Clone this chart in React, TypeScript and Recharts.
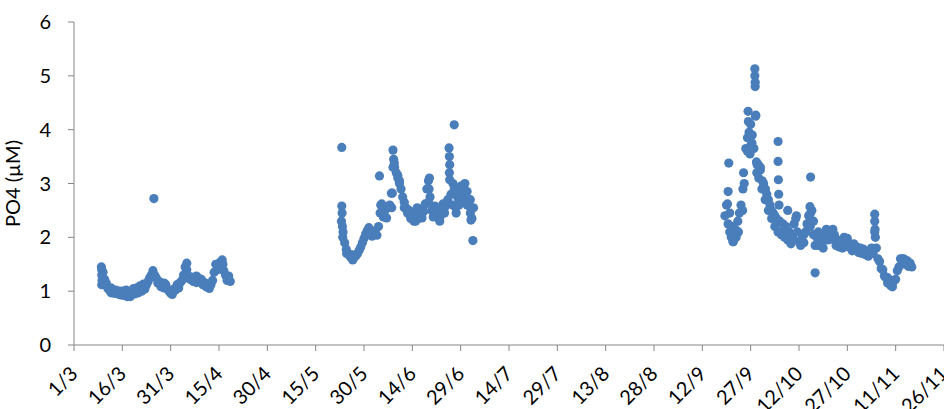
import React from 'react';
import { ScatterChart, Scatter, XAxis, YAxis } from 'recharts';

// Day 0 is 1 March; readings are every half day within each deployment
const SAMPLE_STEP = 0.5;

const tickDays = [0, 15, 30, 45, 60, 75, 90, 105, 120, 135, 150, 165, 180, 195, 210, 225, 240, 255, 270];
const tickLabels = ['1/3', '16/3', '31/3', '15/4', '30/4', '15/5', '30/5', '14/6', '29/6', '14/7', '29/7', '13/8', '28/8', '12/9', '27/9', '12/10', '27/10', '11/11', '26/11'];
const yTicks = [0, 1, 2, 3, 4, 5, 6];

// Spring deployment (from 9/3)
const springStart = 8.5;
const springValues = [
  1.45, 1.35, 1.22, 1.15, 1.05, 1.02, 0.97, 1.03, 0.96, 1.02,
  0.95, 1.0, 0.93, 1.0, 0.92, 0.97, 0.9, 0.95, 0.9, 1.0,
  1.05, 0.95, 1.06, 0.97, 1.1, 1.0, 1.13, 1.04, 1.12, 1.18,
  1.25, 1.3, 1.38, 1.3, 1.25, 1.15, 1.18, 1.08, 1.14, 1.06,
  1.12, 1.04, 1.0, 0.96, 0.94, 1.04, 1.02, 1.12, 1.06, 1.16,
  1.2, 1.3, 1.45, 1.52, 1.28, 1.22, 1.26, 1.18, 1.24, 1.16,
  1.25, 1.18, 1.22, 1.12, 1.16, 1.08, 1.13, 1.05, 1.12, 1.2,
  1.35, 1.5, 1.4, 1.52, 1.42, 1.58, 1.38, 1.3, 1.2, 1.28,
  1.18,
];

// Summer deployment (from 23/5)
const summerStart = 83;
const summerValues = [
  2.3, 2.1, 1.9, 1.78, 1.7, 1.66, 1.62, 1.58, 1.63, 1.66,
  1.7, 1.76, 1.82, 1.9, 1.98, 2.06, 2.12, 2.18, 2.08, 2.02,
  2.08, 2.12, 2.04, 2.2, 2.45, 2.62, 2.38, 2.5, 2.36, 2.55,
  2.6, 2.82, 3.3, 3.3, 3.2, 3.1, 3.0, 2.9, 2.75, 2.65,
  2.55, 2.45, 2.5, 2.35, 2.4, 2.3, 2.45, 2.55, 2.35, 2.52,
  2.36, 2.48, 2.62, 2.9, 3.05, 2.75, 2.5, 2.38, 2.58, 2.4,
  2.52, 2.35, 2.5, 2.62, 2.45, 2.6, 2.7, 3.2, 2.8, 2.6,
  2.9, 2.55, 2.75, 2.6, 2.85, 2.7, 2.92, 2.75, 2.85, 2.6,
  2.45, 2.35, 2.55,
];

// Autumn deployment (from 20/9)
const autumnStart = 202;
const autumnValues = [
  2.4, 2.6, 2.25, 2.1, 2.0, 1.92, 2.05, 2.0, 2.3, 2.45,
  2.6, 2.5, 3.0, 3.65, 3.85, 3.95, 3.7, 3.9, 3.65, 4.25,
  3.35, 3.1, 3.25, 2.9, 3.0, 2.7, 2.8, 2.5, 2.6, 2.35,
  2.45, 2.2, 2.35, 2.1, 2.3, 2.05, 2.25, 2.0, 2.2, 1.95,
  2.1, 1.88, 2.0, 2.25, 2.35, 2.1, 1.92, 1.85, 2.05, 1.9,
  2.1, 2.25, 2.4, 2.2, 2.5, 2.05, 1.85, 2.0, 1.85, 2.05,
  1.9, 1.8, 1.95, 2.1, 1.95, 2.12, 2.0, 2.15, 1.95, 1.85,
  1.95, 1.82, 1.9, 1.8, 2.0, 1.92, 1.98, 1.82, 1.86, 1.75,
  1.88, 1.78, 1.82, 1.72, 1.8, 1.7, 1.78, 1.68, 1.74, 1.65,
  1.72, 1.8, 1.7, 2.1, 1.8, 1.6, 1.55, 1.42, 1.4, 1.28,
  1.25, 1.15, 1.18, 1.1, 1.15, 1.2, 1.22, 1.38, 1.45, 1.6,
  1.52, 1.6, 1.5, 1.57, 1.46, 1.52, 1.45,
];

// Extra readings between the half-day samples: spikes and outliers [day, PO4]
const spotReadings: [number, number][] = [
  [8.6, 1.4], [8.6, 1.3], [8.7, 1.2], [8.6, 1.12], [9.0, 1.15],
  [11.5, 1.06], [16.2, 1.02], [19.2, 1.0], [21.8, 1.08],
  [24.8, 2.72], [28.0, 1.15], [35.0, 1.4], [35.1, 1.3], [38.0, 1.28],
  [42.0, 1.12], [45.8, 1.55], [46.2, 1.5], [47.8, 1.22],
  [83.1, 3.67], [83.1, 2.58], [83.2, 2.45], [83.3, 2.2], [83.4, 2.0],
  [84.6, 1.7], [86.0, 1.68], [94.8, 3.14], [95.2, 2.6], [98.6, 2.55],
  [98.8, 2.82], [99.0, 3.62], [99.2, 3.45], [99.4, 3.38], [100.5, 3.15],
  [101.0, 3.05], [102.5, 2.55], [104.2, 2.42], [106.0, 2.3], [108.0, 2.45],
  [110.0, 2.65], [110.2, 2.9], [110.3, 3.1], [112.0, 2.4], [113.5, 2.3],
  [115.0, 2.55], [116.4, 3.66], [116.5, 3.5], [116.6, 3.35], [116.6, 3.07],
  [117.6, 3.0], [118.0, 4.09], [118.6, 2.45], [119.5, 2.7], [120.0, 2.95],
  [121.3, 3.0], [122.0, 2.6], [123.0, 2.7], [123.1, 2.55], [123.2, 2.32],
  [123.8, 1.94],
  [202.8, 2.62], [203.0, 2.85], [203.2, 3.38], [203.5, 2.45], [204.3, 2.2],
  [204.6, 1.92], [205.2, 2.15], [206.2, 2.1], [207.6, 2.9], [207.8, 3.2],
  [209.0, 3.6], [209.2, 4.34], [209.3, 4.15], [209.8, 3.55], [210.0, 4.1],
  [210.4, 3.75], [211.3, 5.13], [211.3, 5.0], [211.4, 4.88], [211.4, 4.8],
  [211.6, 4.27], [211.8, 3.4], [211.9, 3.2], [212.4, 3.35], [213.0, 3.3],
  [213.6, 3.05], [214.6, 2.9], [215.5, 2.7], [216.5, 2.5], [217.5, 2.4],
  [218.5, 3.78], [218.5, 3.41], [218.6, 3.07], [218.7, 2.8], [218.8, 2.6],
  [220.0, 2.1], [221.5, 2.5], [222.5, 2.05], [224.2, 2.4], [226.5, 2.05],
  [228.4, 2.57], [228.6, 3.12], [228.6, 2.45], [229.0, 2.3], [229.5, 2.3],
  [230.0, 1.34], [231.0, 2.1], [233.5, 2.15], [236.0, 2.05], [240.0, 1.85],
  [244.0, 1.72], [248.5, 2.43], [248.5, 2.3], [248.6, 2.15], [248.7, 2.0],
  [252.5, 1.25], [254.0, 1.08], [257.0, 1.6],
];

const toPoints = (start: number, values: number[]) =>
  values.map((po4, i) => ({ day: start + i * SAMPLE_STEP, po4 }));

const data = [
  ...toPoints(springStart, springValues),
  ...toPoints(summerStart, summerValues),
  ...toPoints(autumnStart, autumnValues),
  ...spotReadings.map(([day, po4]) => ({ day, po4 })),
];

const FONT = 'Lato, "Liberation Sans", sans-serif';
const AXIS_GREY = '#868686';
const DOT_BLUE = '#4A7EBB';

const DateTick = ({ x, y, payload }: { x?: number; y?: number; payload?: { value: number } }) => {
  const idx = tickDays.indexOf(payload?.value ?? -1);
  return (
    <g transform={`translate(${(x ?? 0) + 5},${(y ?? 0) + 22})`}>
      <text textAnchor="end" transform="rotate(-45)" fontSize={20} fill="#000" fontFamily={FONT}>
        {tickLabels[idx] ?? ''}
      </text>
    </g>
  );
};

const Dot = (props: { cx?: number; cy?: number }) => (
  <circle cx={props.cx} cy={props.cy} r={4.6} fill={DOT_BLUE} />
);

export default function App() {
  return (
    <div style={{ position: 'absolute', left: 0, top: 0, fontFamily: FONT }}>
      <ScatterChart width={944} height={409} margin={{ top: 22, right: 0, left: 0, bottom: 0 }}>
        <XAxis
          type="number"
          dataKey="day"
          domain={[0, 270]}
          ticks={tickDays}
          interval={0}
          stroke={AXIS_GREY}
          tickSize={6}
          height={64}
          tick={<DateTick />}
          allowDataOverflow
        />
        <YAxis
          type="number"
          dataKey="po4"
          domain={[0, 6]}
          ticks={yTicks}
          stroke={AXIS_GREY}
          tickSize={6}
          tickMargin={17}
          width={74}
          tick={{ fill: '#000', fontSize: 20, fontFamily: FONT }}
          label={{
            value: 'PO4 (µM)',
            angle: -90,
            position: 'insideLeft',
            offset: 13,
            style: { fill: '#000', fontSize: 20, fontFamily: FONT, textAnchor: 'middle' },
          }}
        />
        <Scatter data={data} shape={<Dot />} isAnimationActive={false} />
      </ScatterChart>
    </div>
  );
}
